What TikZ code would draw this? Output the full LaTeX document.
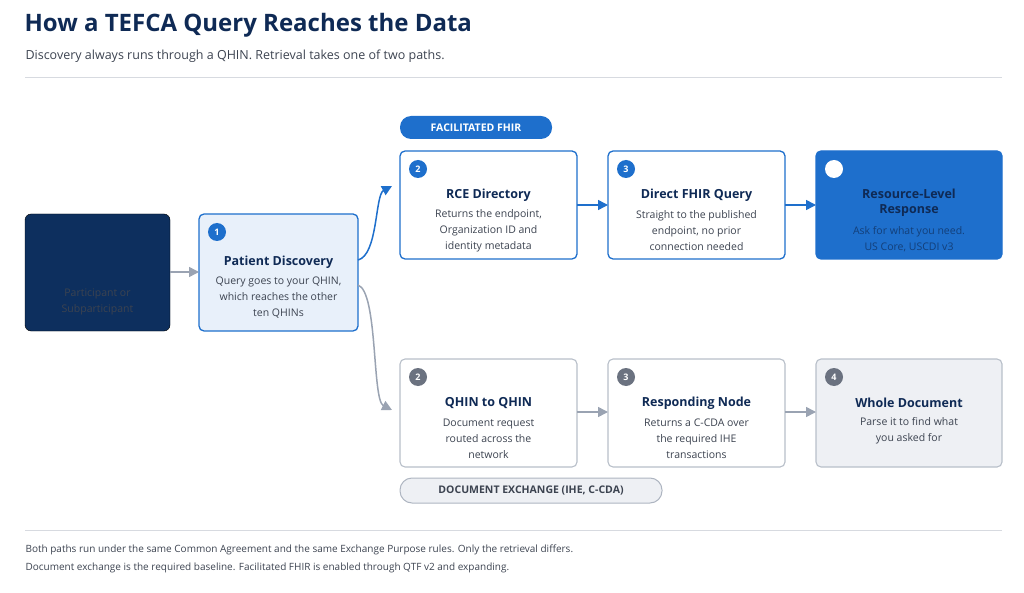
\documentclass[tikz,border=0pt]{standalone}
\usepackage{fontspec}
\setmainfont{Open Sans}
\usetikzlibrary{arrows.meta}
\definecolor{navy}{HTML}{0F2A55}
\definecolor{dark}{HTML}{0D2F5E}
\definecolor{blu}{HTML}{1E6FCC}
\definecolor{lblue}{HTML}{E8F0FA}
\definecolor{gr}{HTML}{9AA3B2}
\definecolor{lgr}{HTML}{EEF0F4}
\definecolor{txt}{HTML}{3C4350}
\definecolor{badge}{HTML}{6B7280}
\begin{document}
\begin{tikzpicture}[x=1pt,y=-1pt,
 box/.style={draw=blu,line width=1.3pt,rounded corners=5pt,fill=white},
 gbox/.style={draw=gr!70,line width=1.1pt,rounded corners=5pt,fill=white},
 ttl/.style={font=\bfseries\fontsize{12.5}{15}\selectfont,text=navy,align=center},
 sub/.style={font=\fontsize{10.5}{16}\selectfont,text=txt,align=center},
 bb/.style={circle,fill=blu,text=white,font=\bfseries\fontsize{9}{9}\selectfont,inner sep=0,minimum size=18pt},
 gb/.style={bb,fill=badge},
 ba/.style={-{Triangle[length=10pt,width=10pt]},blu,line width=1.5pt},
 ga/.style={-{Triangle[length=10pt,width=10pt]},gr,line width=1.5pt}]
\useasboundingbox (0,0) rectangle (1024,593);
\node[anchor=west,font=\bfseries\fontsize{24}{28}\selectfont,text=navy] (title) at (21,25) {How a TEFCA Query Reaches the Data};
\node[anchor=west,font=\fontsize{12.5}{15}\selectfont,text=txt] (subt) at (22,56) {Discovery always runs through a QHIN. Retrieval takes one of two paths.};
\draw[gr!40,line width=1pt] (25,78) coordinate (l1) -- (1002,78) coordinate (l2);
% pills
\node[fill=blu,rounded corners=11pt,minimum width=152pt,minimum height=23pt,text=white,font=\bfseries\fontsize{10.5}{12}\selectfont] (p1) at (476,127.5) {FACILITATED FHIR};
\node[fill=lgr,draw=gr!80,line width=1pt,rounded corners=12pt,minimum width=262pt,minimum height=25pt,text=txt,font=\bfseries\fontsize{10.5}{12}\selectfont] (p2) at (531,490.5) {DOCUMENT EXCHANGE (IHE, C-CDA)};
% left
\draw[fill=dark,rounded corners=6pt] (25,214) rectangle (170,331);
\node[sub,text=txt] (part) at (97.5,302) {Participant or\\Subparticipant};
\coordinate (partE) at (170,272);
\draw[box,fill=lblue] (199,214) rectangle (358,331);
\node[bb] (b1) at (217,232) {1};
\node[ttl] (pdT) at (278.5,262) {Patient Discovery};
\node[sub] (pdS) at (278.5,298) {Query goes to your QHIN,\\which reaches the other\\ten QHINs};
\coordinate (pdW) at (199,272);
% top row
\draw[box] (400,151) rectangle (577,259);
\node[bb] (b2) at (418,169) {2};
\node[ttl] (rT) at (488.5,195) {RCE Directory};
\node[sub] (rS) at (488.5,231) {Returns the endpoint,\\Organization ID and\\identity metadata};
\draw[box] (608,151) rectangle (785,259);
\node[bb] (b3) at (626,169) {3};
\node[ttl] (dT) at (696.5,195) {Direct FHIR Query};
\node[sub] (dS) at (696.5,231) {Straight to the published\\endpoint, no prior\\connection needed};
\draw[box,fill=blu] (816,151) rectangle (1002,259);
\node[bb,fill=white] (b4) at (834,169) {};
\node[ttl] (resT) at (909,203) {Resource-Level\\Response};
\node[sub,text=navy!70!blu] (resS) at (909,239) {Ask for what you need.\\US Core, USCDI v3};
% bottom row
\draw[gbox] (400,359) rectangle (577,467);
\node[gb] (c2) at (418,377) {2};
\node[ttl] (qT) at (488.5,403) {QHIN to QHIN};
\node[sub] (qS) at (488.5,439) {Document request\\routed across the\\network};
\draw[gbox] (608,359) rectangle (785,467);
\node[gb] (c3) at (626,377) {3};
\node[ttl] (nT) at (696.5,403) {Responding Node};
\node[sub] (nS) at (696.5,439) {Returns a C-CDA over\\the required IHE\\transactions};
\draw[gbox,fill=lgr] (816,359) rectangle (1002,467);
\node[gb] (c4) at (834,377) {4};
\node[ttl] (wT) at (909,403) {Whole Document};
\node[sub] (wS) at (909,431) {Parse it to find what\\you asked for};
% connectors
\draw[ga] (partE) -- (pdW);
\coordinate (pdA) at (358,260); \coordinate (rW) at (392,186);
\draw[ba] (pdA) .. controls (378,255) and (375,195) .. (rW);
\coordinate (pdB) at (358,285); \coordinate (qW) at (392,410);
\draw[ga] (pdB) .. controls (378,292) and (372,400) .. (qW);
\coordinate (a1) at (577,205); \coordinate (a2) at (608,205);
\coordinate (a3) at (785,205); \coordinate (a4) at (816,205);
\draw[ba] (a1) -- (a2); \draw[ba] (a3) -- (a4);
\coordinate (g1) at (577,412); \coordinate (g2) at (608,412);
\coordinate (g3) at (785,412); \coordinate (g4) at (816,412);
\draw[ga] (g1) -- (g2); \draw[ga] (g3) -- (g4);
\draw[gr!40,line width=1pt] (25,530) coordinate (l3) -- (1002,530) coordinate (l4);
\node[anchor=west,font=\fontsize{10}{12}\selectfont,text=txt] (f1) at (22,550) {Both paths run under the same Common Agreement and the same Exchange Purpose rules. Only the retrieval differs.};
\node[anchor=west,font=\fontsize{10}{12}\selectfont,text=txt] (f2) at (22,568) {Document exchange is the required baseline. Facilitated FHIR is enabled through QTF v2 and expanding.};
\end{tikzpicture}
\end{document}
